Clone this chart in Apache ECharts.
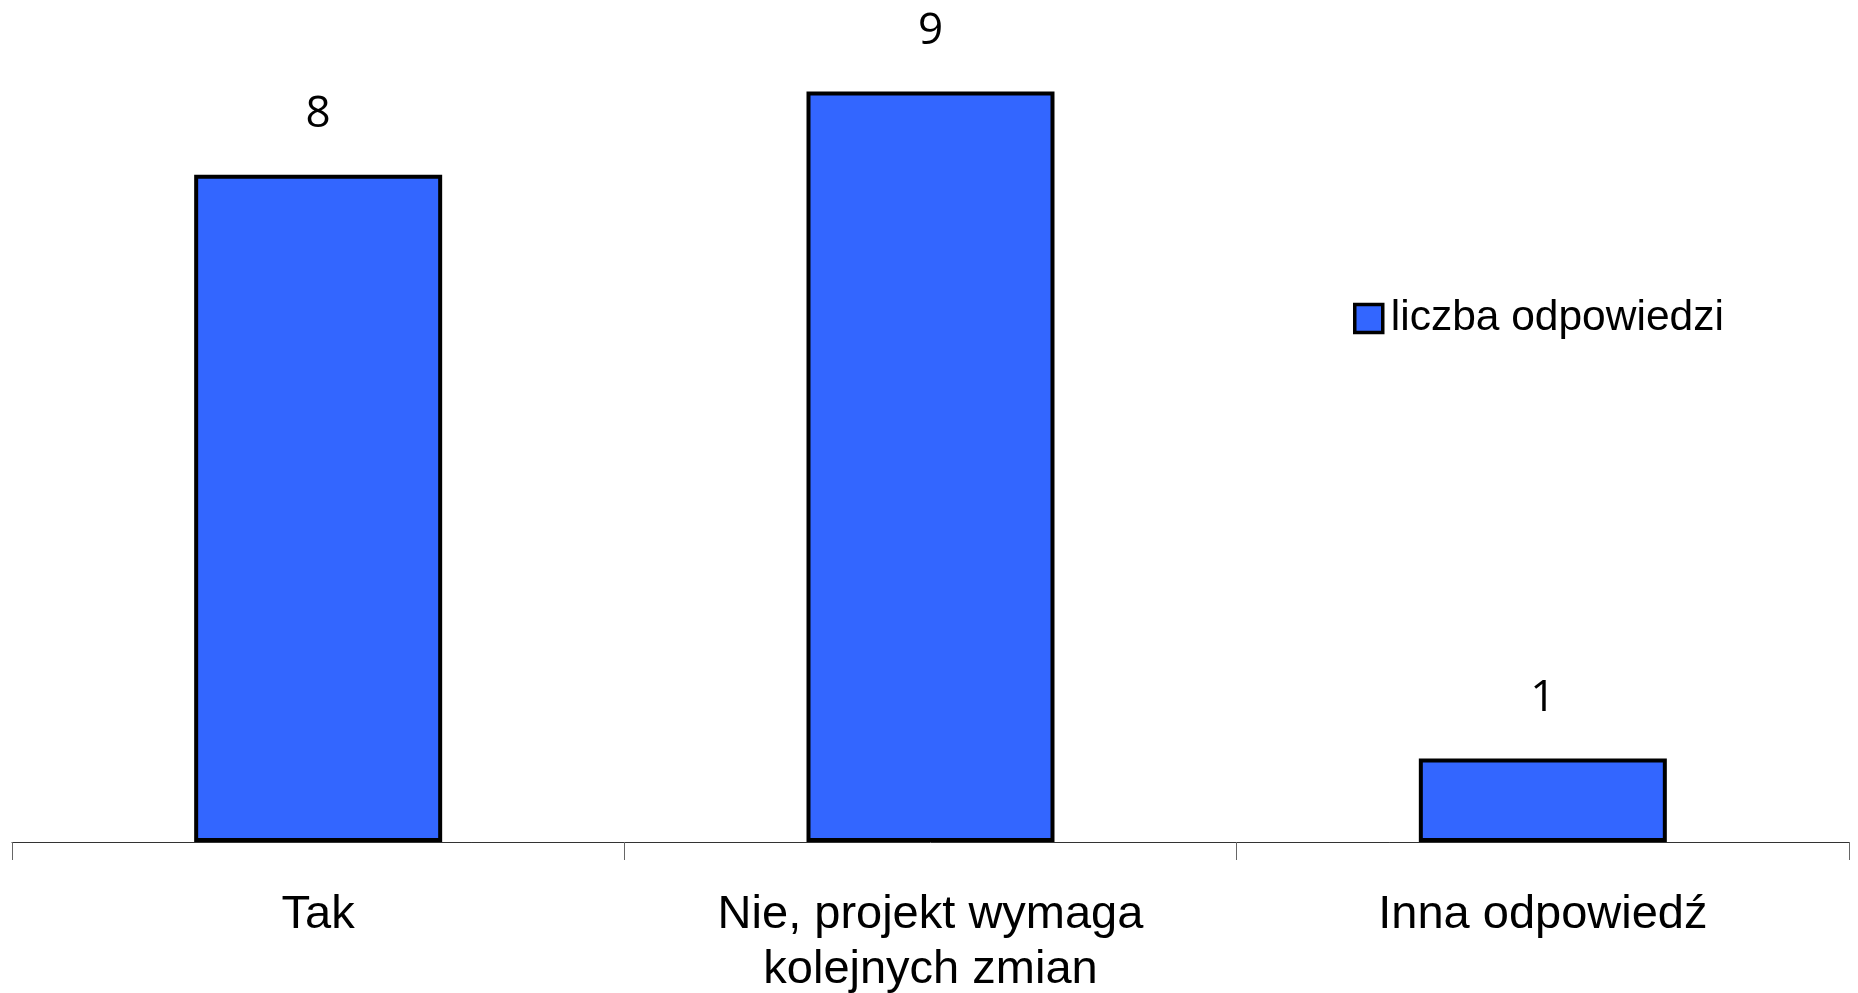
<!DOCTYPE html>
<html>
<head>
<meta charset="utf-8">
<script src="https://cdn.jsdelivr.net/npm/echarts@6/dist/echarts.min.js"></script>
<style>
  html, body { margin: 0; padding: 0; background: #ffffff; }
  #chart { width: 1858px; height: 993px; }
</style>
</head>
<body>
<div id="chart"></div>
<script>
// Survey answers and their counts
const categories = ['Tak', 'Nie, projekt wymaga\nkolejnych zmian', 'Inna odpowiedź'];
const answerCounts = [8, 9, 1];
const seriesName = 'liczba odpowiedzi';

const chart = echarts.init(document.getElementById('chart'), null, { renderer: 'canvas' });

chart.setOption({
  backgroundColor: '#ffffff',
  animation: false,
  grid: { left: 12, right: 9, top: 8, bottom: 151, containLabel: false, outerBoundsMode: 'none' },
  legend: {
    data: [{ name: seriesName, icon: 'rect' }],
    left: 1348,
    top: 292,
    orient: 'vertical',
    itemWidth: 28,
    itemHeight: 28,
    itemGap: 0,
    textStyle: {
      fontFamily: 'Liberation Sans, Arial, sans-serif',
      fontSize: 42.5,
      color: '#000000',
      padding: [0, 0, 0, 3]
    },
    itemStyle: { borderColor: '#000000', borderWidth: 3.5 }
  },
  xAxis: {
    type: 'category',
    data: categories,
    axisLine: { show: true, lineStyle: { color: '#333333', width: 1 } },
    axisTick: { show: true, length: 18, lineStyle: { color: '#666666', width: 1 } },
    axisLabel: {
      margin: 46,
      fontFamily: 'Liberation Sans, Arial, sans-serif',
      fontSize: 47,
      lineHeight: 55,
      color: '#000000',
      interval: 0
    }
  },
  yAxis: {
    type: 'value',
    min: 0,
    max: 10,
    show: false,
    splitLine: { show: false }
  },
  series: [{
    name: seriesName,
    type: 'bar',
    data: answerCounts,
    barWidth: '40.5%',
    itemStyle: { color: '#3366FF', borderColor: '#000000', borderWidth: 4 },
    label: {
      show: true,
      position: 'top',
      distance: 38,
      fontFamily: 'Open Sans, sans-serif',
      fontSize: 44,
      color: '#000000'
    }
  }]
});
</script>
</body>
</html>
